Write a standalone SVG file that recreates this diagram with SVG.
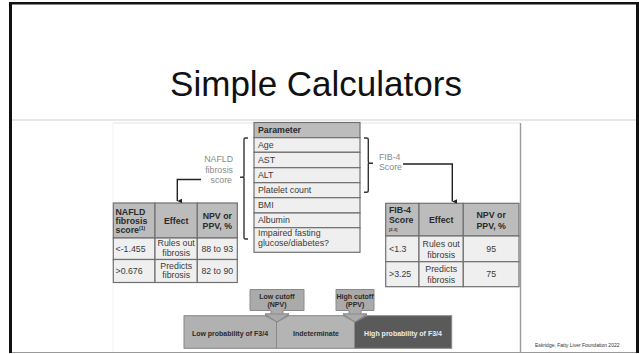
<svg xmlns="http://www.w3.org/2000/svg" width="639" height="354" viewBox="0 0 639 354">
  <defs>
    <marker id="arrowDown" viewBox="0 0 8 8" refX="4" refY="8" markerWidth="5" markerHeight="5" orient="auto-start-reverse" markerUnits="userSpaceOnUse">
      <path d="M0,0 L8,0 L4,8 Z" fill="#222"/>
    </marker>
    <style>
      text { font-family: "Liberation Sans", Arial, sans-serif; }
      .title { font-size: 35px; fill: #111; }
      .cell { fill: #efefef; stroke: #707070; stroke-width: 1.2; }
      .head { fill: #bcbcbc; stroke: #707070; stroke-width: 1.2; }
      .t { font-size: 8.8px; fill: #3a3a3a; }
      .tb { font-size: 8.8px; fill: #2a2a2a; font-weight: bold; }
      .tc { text-anchor: middle; }
      .lbl { font-size: 8.8px; fill: #8a8a8a; }
      .wire { fill: none; stroke: #222; stroke-width: 1.4; }
      .brk { fill: none; stroke: #333; stroke-width: 1.4; }
      .cut { fill: #aaaaaa; stroke: #8a8a8a; stroke-width: 1; }
      .bar { stroke: #888; stroke-width: 1; }
      .bt { font-size: 7px; font-weight: bold; text-anchor: middle; }
      .foot { font-size: 5px; fill: #333; }
    </style>
  </defs>

  <!-- slide frame -->
  <rect x="0" y="0" width="639" height="354" fill="#fff"/>
  <rect x="9" y="2" width="3" height="351" fill="#111"/>
  <rect x="9" y="2" width="630" height="2.5" fill="#111"/>
  <rect x="636" y="2" width="3" height="351" fill="#111"/>
  <line x1="12" y1="352.5" x2="636" y2="352.5" stroke="#999" stroke-width="1"/>
  <line x1="12" y1="120" x2="636" y2="120" stroke="#cfcfcf" stroke-width="1"/>

  <text class="title" x="316" y="96" text-anchor="middle">Simple Calculators</text>

  <!-- figure panel -->
  <line x1="113" y1="123" x2="520" y2="123" stroke="#e2e2e2" stroke-width="1"/>
  <line x1="113" y1="123" x2="113" y2="352" stroke="#f2f2f2" stroke-width="1"/>
  <line x1="520.5" y1="123" x2="520.5" y2="352" stroke="#9a9a9a" stroke-width="1.4"/>

  <!-- parameter list -->
  <g id="parameters">
    <rect class="head" x="254" y="122.5" width="106" height="15.2"/>
    <rect class="cell" x="254" y="137.7" width="106" height="14.6"/>
    <rect class="cell" x="254" y="152.3" width="106" height="15.4"/>
    <rect class="cell" x="254" y="167.7" width="106" height="15"/>
    <rect class="cell" x="254" y="182.7" width="106" height="15"/>
    <rect class="cell" x="254" y="197.7" width="106" height="15.3"/>
    <rect class="cell" x="254" y="213" width="106" height="14.7"/>
    <rect class="cell" x="254" y="227.7" width="106" height="24.6"/>
    <text class="tb" x="258" y="133.2">Parameter</text>
    <text class="t" x="258" y="148.1">Age</text>
    <text class="t" x="258" y="163.1">AST</text>
    <text class="t" x="258" y="178.3">ALT</text>
    <text class="t" x="258" y="193.3">Platelet count</text>
    <text class="t" x="258" y="208.4">BMI</text>
    <text class="t" x="258" y="223.4">Albumin</text>
    <text class="t" x="258" y="235.6">Impaired fasting</text>
    <text class="t" x="258" y="246.2">glucose/diabetes?</text>
  </g>

  <!-- NAFLD fibrosis score table -->
  <g id="nafld-table">
    <rect class="head" x="113.3" y="203" width="41.7" height="35"/>
    <rect class="head" x="155" y="203" width="42.3" height="35"/>
    <rect class="head" x="197.3" y="203" width="40" height="35"/>
    <rect class="cell" x="113.3" y="238" width="41.7" height="21.5"/>
    <rect class="cell" x="155" y="238" width="42.3" height="21.5"/>
    <rect class="cell" x="197.3" y="238" width="40" height="21.5"/>
    <rect class="cell" x="113.3" y="259.5" width="41.7" height="23"/>
    <rect class="cell" x="155" y="259.5" width="42.3" height="23"/>
    <rect class="cell" x="197.3" y="259.5" width="40" height="23"/>
    <text class="tb" x="115.5" y="214.5">NAFLD</text>
    <text class="tb" x="115.5" y="223.5">fibrosis</text>
    <text class="tb" x="115.5" y="232.5">score<tspan font-size="5" dy="-3">(1)</tspan></text>
    <text class="tb tc" x="176.2" y="223.5">Effect</text>
    <text class="tb tc" x="217.3" y="219">NPV or</text>
    <text class="tb tc" x="217.3" y="228.5">PPV, %</text>
    <text class="t" x="115.5" y="252">&lt;-1.455</text>
    <text class="t tc" x="176.2" y="246.3">Rules out</text>
    <text class="t tc" x="176.2" y="255.5">fibrosis</text>
    <text class="t tc" x="217.3" y="252">88 to 93</text>
    <text class="t" x="115.5" y="274">&gt;0.676</text>
    <text class="t tc" x="176.2" y="268.5">Predicts</text>
    <text class="t tc" x="176.2" y="278">fibrosis</text>
    <text class="t tc" x="217.3" y="274">82 to 90</text>
  </g>

  <!-- FIB-4 score table -->
  <g id="fib4-table">
    <rect class="head" x="385.7" y="203.3" width="33.3" height="32.7"/>
    <rect class="head" x="419" y="203.3" width="44.3" height="32.7"/>
    <rect class="head" x="463.3" y="203.3" width="55.7" height="32.7"/>
    <rect class="cell" x="385.7" y="236" width="33.3" height="25.7"/>
    <rect class="cell" x="419" y="236" width="44.3" height="25.7"/>
    <rect class="cell" x="463.3" y="236" width="55.7" height="25.7"/>
    <rect class="cell" x="385.7" y="261.7" width="33.3" height="25"/>
    <rect class="cell" x="419" y="261.7" width="44.3" height="25"/>
    <rect class="cell" x="463.3" y="261.7" width="55.7" height="25"/>
    <text class="tb" x="389" y="213">FIB-4</text>
    <text class="tb" x="389" y="223">Score<tspan x="389" dy="7.5" font-size="4">[2,3]</tspan></text>
    <text class="tb tc" x="441.2" y="222.8">Effect</text>
    <text class="tb tc" x="491.2" y="217.5">NPV or</text>
    <text class="tb tc" x="491.2" y="228.5">PPV, %</text>
    <text class="t" x="389" y="251.5">&lt;1.3</text>
    <text class="t tc" x="441.2" y="247">Rules out</text>
    <text class="t tc" x="441.2" y="257.5">fibrosis</text>
    <text class="t tc" x="491.2" y="252">95</text>
    <text class="t" x="389" y="277.3">&gt;3.25</text>
    <text class="t tc" x="441.2" y="272">Predicts</text>
    <text class="t tc" x="441.2" y="282.8">fibrosis</text>
    <text class="t tc" x="491.2" y="277.3">75</text>
  </g>

  <!-- score labels -->
  <g id="nafld-label">
    <text class="lbl" x="233" y="161.8" text-anchor="end">NAFLD</text>
    <text class="lbl" x="233" y="172.5" text-anchor="end">fibrosis</text>
    <text class="lbl" x="232" y="183.2" text-anchor="end">score</text>
  </g>
  <g id="fib4-label">
    <text class="lbl" x="379" y="159.5">FIB-4</text>
    <text class="lbl" x="379" y="170.2">Score</text>
  </g>

  <!-- cut-off callouts -->
  <g id="low-cutoff">
    <path class="cut" d="M250,289.5 H304 V310.5 H283 V314 H289 L277,322 L265,314 H271 V310.5 H250 Z"/>
  </g>
  <g id="high-cutoff">
    <path class="cut" d="M336,289.5 H374 V310.5 H361 V314 H367 L355,322 L343,314 H349 V310.5 H336 Z"/>
  </g>

  <!-- probability bands -->
  <g id="band-low">
    <rect class="bar" x="184" y="315.7" width="92.5" height="32.6" fill="#b1b1b1"/>
    <text class="bt" x="230" y="336" fill="#2a2a2a">Low probability of F3/4</text>
  </g>
  <g id="band-mid">
    <rect class="bar" x="276.5" y="315.7" width="78" height="32.6" fill="#b4b4b4"/>
    <text class="bt" x="316" y="336" fill="#2a2a2a">Indeterminate</text>
  </g>
  <g id="band-high">
    <rect class="bar" x="354.5" y="315.7" width="97.2" height="32.6" fill="#5a5a5a"/>
    <text class="bt" x="403" y="336" fill="#ececec">High probability of F3/4</text>
  </g>

  <!-- arrow tips sit over the bands -->
  <g id="cutoff-tips">
    <path class="cut" d="M265,314 H289 L277,322 Z" stroke="none"/>
    <path d="M265,315.7 L277,322 L289,315.7" fill="none" stroke="#8a8a8a" stroke-width="1"/>
    <path class="cut" d="M343,314 H367 L355,322 Z" stroke="none" fill="#aaaaaa"/>
    <path d="M343,315.7 L355,322 L367,315.7" fill="none" stroke="#8a8a8a" stroke-width="1"/>
  </g>
  <g id="cutoff-text">
    <text class="bt" x="277" y="298.8" fill="#2a2a2a" font-size="7.5">Low cutoff</text>
    <text class="bt" x="277" y="306.8" fill="#2a2a2a" font-size="7.5">(NPV)</text>
    <text class="bt" x="355" y="298.8" fill="#2a2a2a" font-size="7.5">High cutoff</text>
    <text class="bt" x="355" y="306.8" fill="#2a2a2a" font-size="7.5">(PPV)</text>
  </g>

  <!-- connectors -->
  <g id="connectors">
    <path class="brk" d="M248,138 H245.5 Q244,138 244,139.5 V175.8 Q244,177.3 242.5,177.3 H240 M244,177.3 V237.5 Q244,239 245.5,239 H248"/>
    <path class="brk" d="M364,138 H366.5 Q368.3,138 368.3,139.5 V161.8 Q368.3,163.3 369.8,163.3 H373 M368.3,163.3 V190.8 Q368.3,192.3 366.5,192.3 H364"/>
    <path class="wire" d="M201,179.5 H177.3 V201" marker-end="url(#arrowDown)"/>
    <path class="wire" d="M403,164 H452.3 V201.5" marker-end="url(#arrowDown)"/>
  </g>

  <text class="foot" x="535" y="346.5">Eskridge, Fatty Liver Foundation 2022</text>
</svg>
